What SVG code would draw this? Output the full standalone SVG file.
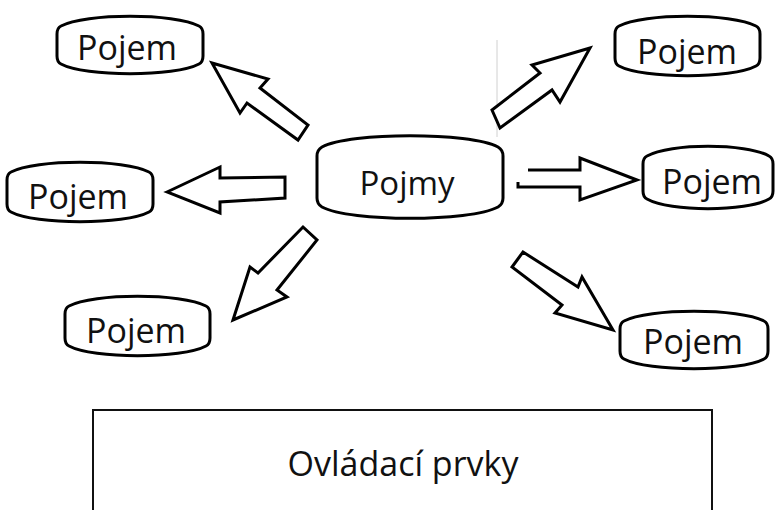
<svg xmlns="http://www.w3.org/2000/svg" width="782" height="510" viewBox="0 0 782 510">
  <style>
    .node { fill: #fff; stroke: #000; stroke-width: 3; stroke-linejoin: round; }
    .arrow { fill: #fff; stroke: #000; stroke-width: 3; stroke-linejoin: miter; }
    .label { font-family: "Open Sans", "Noto Sans", sans-serif; font-size: 34px; fill: #111; text-anchor: middle; }
    .panel { fill: #fff; stroke: #111; stroke-width: 2; }
  </style>
  <rect width="782" height="510" fill="#fff"/>

  <!-- thin guide line -->
  <line x1="497" y1="40" x2="497" y2="137" stroke="#d0d0d0" stroke-width="1"/>

  <!-- central concept -->
  <g id="pojmy">
    <path class="node" d="M322,147 C350,132 470,132 498,147 Q503,150 503,156 L503,198 Q503,204 498,207 C470,222 350,222 322,207 Q317,204 317,198 L317,156 Q317,150 322,147 Z"/>
    <text class="label" x="407" y="195" style="font-size:33px">Pojmy</text>
  </g>

  <!-- surrounding concepts -->
  <g id="pojem-tl">
    <path class="node" d="M61,26 C85,13 175,13 199,26 Q203,28 203,34 L203,56 Q203,62 199,64 C175,77 85,77 61,64 Q57,62 57,56 L57,34 Q57,28 61,26 Z"/>
    <text class="label" x="127" y="60">Pojem</text>
  </g>
  <g id="pojem-tr">
    <path class="node" d="M619,26 C643,13 732,13 756,26 Q760,28 760,34 L760,58 Q760,64 756,66 C732,79 643,79 619,66 Q615,64 615,58 L615,34 Q615,28 619,26 Z"/>
    <text class="label" x="687" y="64">Pojem</text>
  </g>
  <g id="pojem-ml">
    <path class="node" d="M11,172 C35,159 125,159 149,172 Q153,174 153,180 L153,204 Q153,210 149,212 C125,225 35,225 11,212 Q7,210 7,204 L7,180 Q7,174 11,172 Z"/>
    <text class="label" x="78" y="209">Pojem</text>
  </g>
  <g id="pojem-mr">
    <path class="node" d="M647,156 C670,143 746,143 769,156 Q773,158 773,164 L773,191 Q773,197 769,199 C746,212 670,212 647,199 Q643,197 643,191 L643,164 Q643,158 647,156 Z"/>
    <text class="label" x="712" y="194">Pojem</text>
  </g>
  <g id="pojem-bl">
    <path class="node" d="M69,306 C93,293 182,293 206,306 Q210,308 210,314 L210,338 Q210,344 206,346 C182,359 93,359 69,346 Q65,344 65,338 L65,314 Q65,308 69,306 Z"/>
    <text class="label" x="136" y="343">Pojem</text>
  </g>
  <g id="pojem-br">
    <path class="node" d="M624,321 C648,308 740,308 764,321 Q768,323 768,329 L768,351 Q768,357 764,359 C740,372 648,372 624,359 Q620,357 620,351 L620,329 Q620,323 624,321 Z"/>
    <text class="label" x="693" y="354">Pojem</text>
  </g>

  <!-- block arrows -->
  <g id="connectors">
    <polygon class="arrow" points="212,63 268,79 260,88 308,125 298,140 247,103 240,113"/>
    <polygon class="arrow" points="590,48 532,65 540,73 492,110 500,128 552,90 560,102"/>
    <polygon class="arrow" points="167,192 220,167 220,178 285,177 285,198 220,202 220,213"/>
    <path class="arrow" d="M528,170 L580,170 L580,158 L637,180 L580,200 L580,187 L518,187 L518,182"/>
    <polygon class="arrow" points="233,320 250,267 258,273 303,227 317,240 277,290 287,297"/>
    <polygon class="arrow" points="613,330 582,277 578,287 523,252 512,267 562,305 555,313"/>
  </g>

  <!-- controls panel -->
  <g id="ovladaci-prvky">
    <rect class="panel" x="93" y="410" width="619" height="115"/>
    <text class="label" x="403" y="476">Ovládací prvky</text>
  </g>
</svg>
